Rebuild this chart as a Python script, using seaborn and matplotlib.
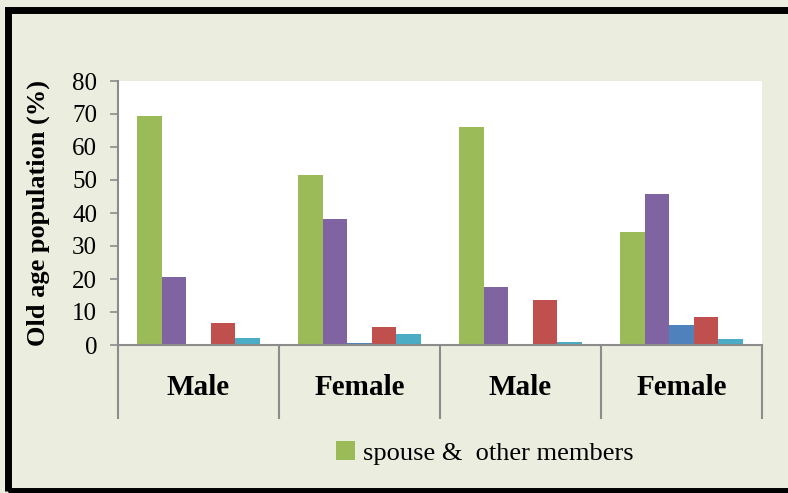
import pandas as pd
import numpy as np
import matplotlib.pyplot as plt
from matplotlib.patches import Rectangle
import seaborn as sns

groups = ["Male", "Female", "Male", "Female"]
slots = ["g1", "g2", "g3", "g4"]
series = ["spouse &  other members", "series 2", "series 3", "series 4", "series 5"]
colors = ["#9BBB59", "#8064A2", "#4F81BD", "#C0504D", "#4BACC6"]

green = [69.5, 51.6, 66.1, 34.1]
purple = [20.7, 38.1, 17.7, 45.7]
blue = [0.0, 0.7, 0.0, 6.0]
red = [6.8, 5.5, 13.5, 8.6]
cyan = [2.1, 3.2, 1.0, 1.7]

rows = []
for name, vals in zip(series, [green, purple, blue, red, cyan]):
    for s, v in zip(slots, vals):
        rows.append({"slot": s, "series": name, "value": v})
df = pd.DataFrame(rows)

sns.set_style("white")
plt.rcParams["font.family"] = ["Liberation Serif", "DejaVu Serif"]
plt.rcParams["text.color"] = "black"
plt.rcParams["xtick.color"] = "black"
plt.rcParams["ytick.color"] = "black"
plt.rcParams["axes.labelcolor"] = "black"

bg = "#EBEEDE"
grey = "#8C8C8C"

fig = plt.figure(figsize=(7.88, 4.93), dpi=100, facecolor=bg)
ax = fig.add_axes([118/788, 1 - 345/493, (762-118)/788, (345-81)/493])
ax.set_facecolor("white")

sns.barplot(data=df, x="slot", y="value", hue="series", order=slots,
            hue_order=series, palette=colors, width=0.76, gap=0,
            saturation=1, legend=False, linewidth=0, ax=ax)

ax.set_xlim(-0.5, 3.5)
ax.set_ylim(0, 80)
ax.set_yticks(np.arange(0, 81, 10))
ax.tick_params(axis="y", direction="out", length=6, width=1.2, color=grey,
               labelsize=18, pad=9, left=True)
ax.set_xticks(range(4))
ax.set_xticklabels(groups, fontsize=21, fontweight="bold")
ax.tick_params(axis="x", length=0, pad=21)
ax.set_xticks(np.arange(-0.5, 4, 1), minor=True)
ax.tick_params(axis="x", which="minor", direction="out", length=53,
               width=1.5, color=grey, bottom=True)
ax.set_xlabel("")
ax.set_ylabel("Old age population (%)", fontsize=19, fontweight="bold",
              labelpad=16)
for side in ["top", "right"]:
    ax.spines[side].set_visible(False)
for side in ["left", "bottom"]:
    ax.spines[side].set_color(grey)
    ax.spines[side].set_linewidth(1.5)

ax.legend([ax.containers[0]], [series[0]], loc="center",
          bbox_to_anchor=(485/788, 1 - 453/493), bbox_transform=fig.transFigure,
          frameon=False, fontsize=19, handlelength=0.7, handleheight=0.7,
          handletextpad=0.3)

fig.add_artist(Rectangle((8/788, 2.5/493), 1.1, 481/493, transform=fig.transFigure,
                         fill=False, edgecolor="black", linewidth=5))

fig.savefig("out.png", dpi=100, facecolor=bg)
